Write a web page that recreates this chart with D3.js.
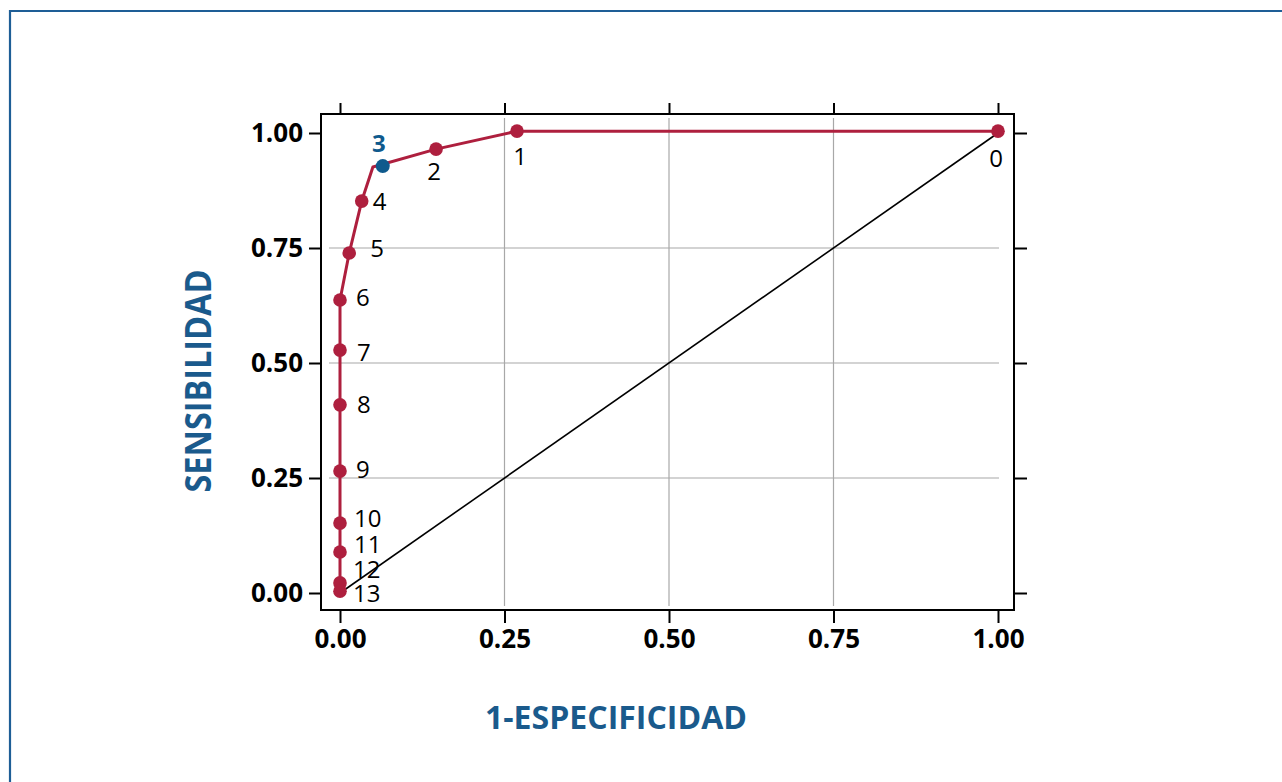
<!DOCTYPE html>
<html><head><meta charset="utf-8">
<script src="https://cdn.jsdelivr.net/npm/d3@7"></script>
<style>
html,body{margin:0;padding:0;background:#fff;}
svg{display:block;}
</style></head>
<body>
<svg id="chart" width="1282" height="782"></svg>
<script>
// ---- data ----
const pointLabels = ["0","1","2","3","4","5","6","7","8","9","10","11","12","13"];
const fpr = [1.000, 0.269, 0.146, 0.050, 0.033, 0.014, 0.000, 0.000, 0.000, 0.000, 0.000, 0.000, 0.000, 0.000];
const tpr = [1.004, 1.004, 0.965, 0.926, 0.852, 0.739, 0.637, 0.528, 0.409, 0.265, 0.152, 0.089, 0.022, 0.004];
const highlightLabel = ["3"];
const highlightFpr = [0.065];
const highlightTpr = [0.928];
const diagonalX = [0, 1];
const diagonalY = [0, 1];
const tickValues = [0, 0.25, 0.50, 0.75, 1.00];
const gridValues = [0.25, 0.50, 0.75];
const xTitle = "1-ESPECIFICIDAD";
const yTitle = "SENSIBILIDAD";

// ---- layout (label placement offsets, px) ----
const labelOffsets = [[-2,36,"middle"],[3,34,"middle"],[-2,31,"middle"],[6,-15,"middle"],[11,9,"start"],[21,4,"start"],[16,6,"start"],[17,11,"start"],[17,8,"start"],[16,7,"start"],[14,4,"start"],[14,1,"start"],[13,-5,"start"],[13,11,"start"]];

const red = "#ae1f3e", blue = "#0f5a8d", titleBlue = "#1a5a8c";
const svg = d3.select("#chart");

// outer border
svg.append("path").attr("d","M10,782 V11 H1282").attr("fill","none").attr("stroke","#1e5e96").attr("stroke-width",2.2);

const x = d3.scaleLinear().domain([0,1]).range([340,998]);
const y = d3.scaleLinear().domain([0,1]).range([593,133]);
const frame = {l:321, r:1014, t:114, b:610};

// grid
const g = svg.append("g");
g.selectAll(".hg").data(gridValues).join("line")
  .attr("x1",frame.l+8).attr("x2",frame.r-15)
  .attr("y1",d=>y(d)).attr("y2",d=>y(d))
  .attr("stroke","#a8a8a8").attr("stroke-width",1.2);
g.selectAll(".vg").data(gridValues).join("line")
  .attr("y1",frame.t+4).attr("y2",frame.b-4)
  .attr("x1",d=>x(d)).attr("x2",d=>x(d))
  .attr("stroke","#a8a8a8").attr("stroke-width",1.2);

// axes
const fmt = d3.format(".2f");
const tickFont = "'Open Sans', 'Noto Sans', sans-serif";
function styleAxis(sel, showLabels){
  sel.select(".domain").remove();
  sel.selectAll(".tick line").attr("stroke","#000").attr("stroke-width",2);
  sel.selectAll(".tick text").attr("fill","#000").attr("font-size",26).attr("font-weight","bold").attr("font-family",tickFont);
  if(!showLabels) sel.selectAll(".tick text").remove();
}
svg.append("g").attr("transform",`translate(0,${frame.b})`)
  .call(d3.axisBottom(x).tickValues(tickValues).tickFormat(fmt).tickSize(13).tickPadding(7))
  .call(s=>styleAxis(s,true));
svg.append("g").attr("transform",`translate(0,${frame.t})`)
  .call(d3.axisTop(x).tickValues(tickValues).tickSize(11))
  .call(s=>styleAxis(s,false));
svg.append("g").attr("transform",`translate(${frame.l},0)`)
  .call(d3.axisLeft(y).tickValues(tickValues).tickFormat(fmt).tickSize(12).tickPadding(6))
  .call(s=>styleAxis(s,true));
svg.append("g").attr("transform",`translate(${frame.r},0)`)
  .call(d3.axisRight(y).tickValues(tickValues).tickSize(13))
  .call(s=>styleAxis(s,false));

// frame
svg.append("rect").attr("x",frame.l).attr("y",frame.t).attr("width",frame.r-frame.l).attr("height",frame.b-frame.t)
  .attr("fill","none").attr("stroke","#000").attr("stroke-width",2);

// diagonal
svg.append("line").attr("x1",x(diagonalX[0])).attr("y1",y(diagonalY[0])).attr("x2",x(diagonalX[1])).attr("y2",y(diagonalY[1]))
  .attr("stroke","#000").attr("stroke-width",1.6);

// ROC curve
const pts = fpr.map((v,i)=>({x:v,y:tpr[i],label:pointLabels[i],off:labelOffsets[i]}));
svg.append("path").datum(pts)
  .attr("d",d3.line().x(d=>x(d.x)).y(d=>y(d.y)))
  .attr("fill","none").attr("stroke",red).attr("stroke-width",3).attr("stroke-linejoin","round");

svg.selectAll(".pt").data(pts.filter(d=>d.label!==highlightLabel[0])).join("circle")
  .attr("cx",d=>x(d.x)).attr("cy",d=>y(d.y)).attr("r",6.8).attr("fill",red);

const hl = highlightFpr.map((v,i)=>({x:v,y:highlightTpr[i],label:highlightLabel[i]}));
svg.selectAll(".hpt").data(hl).join("circle")
  .attr("cx",d=>x(d.x)).attr("cy",d=>y(d.y)).attr("r",7).attr("fill",blue);

// point labels
svg.selectAll(".lbl").data(pts).join("text")
  .attr("x",d=>x(d.x)+d.off[0]).attr("y",d=>y(d.y)+d.off[1])
  .attr("text-anchor",d=>d.off[2])
  .attr("font-family","'Open Sans', 'Noto Sans', sans-serif")
  .attr("font-size",24)
  .attr("font-weight",d=>d.label===highlightLabel[0]?"bold":"normal")
  .attr("fill",d=>d.label===highlightLabel[0]?blue:"#000")
  .text(d=>d.label);

// titles
svg.append("text").attr("x",616).attr("y",729).attr("text-anchor","middle")
  .attr("font-family","'Open Sans', 'Noto Sans', sans-serif").attr("font-weight","bold").attr("font-size",32)
  .attr("fill",titleBlue).attr("textLength",262).attr("lengthAdjust","spacingAndGlyphs").text(xTitle);
svg.append("text").attr("transform","translate(211,381) rotate(-90)").attr("text-anchor","middle")
  .attr("font-family","'Open Sans', 'Noto Sans', sans-serif").attr("font-weight","bold").attr("font-size",35)
  .attr("fill",titleBlue).attr("textLength",223).attr("lengthAdjust","spacingAndGlyphs").text(yTitle);
</script>
</body></html>
